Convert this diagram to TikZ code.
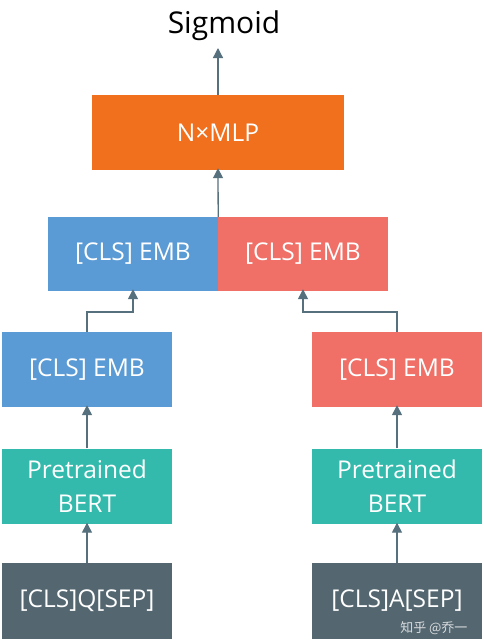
\documentclass[tikz,border=0pt]{standalone}
\usepackage{fontspec}
\setmainfont{Open Sans}
\newfontfamily\cjkfont{Noto Sans CJK SC}
\usetikzlibrary{arrows.meta}
\definecolor{cOrange}{HTML}{F0701E}
\definecolor{cBlue}{HTML}{5B9BD5}
\definecolor{cRed}{HTML}{F06F66}
\definecolor{cTeal}{HTML}{33BAAC}
\definecolor{cDark}{HTML}{546670}
\definecolor{cArrow}{HTML}{56707E}
\definecolor{cWm}{HTML}{D8DCDE}
\tikzset{
  blk/.style={draw=none, inner sep=0pt, text=white, font=\fontsize{24.5}{34}\selectfont, align=center},
  conn/.style={draw=cArrow, line width=1.3pt, -{Triangle[width=10pt,length=10pt]}},
}
\begin{document}
\begin{tikzpicture}[x=1pt,y=-1pt]
\useasboundingbox (0,0) rectangle (484,641);
\fill[white] (0,0) rectangle (484,641);
% nodes
\node[font=\fontsize{30}{36}\selectfont] (sig) at (224,26) {Sigmoid};
\coordinate (sigb) at (218,48);
\node[blk, fill=cOrange, minimum width=252pt, minimum height=75pt] (mlp) at (218,132.5) {N×MLP};
\node[blk, fill=cBlue, minimum width=170pt, minimum height=74pt] (eq) at (133,254) {[CLS] EMB};
\node[blk, fill=cRed, minimum width=170pt, minimum height=74pt] (ea) at (303,254) {[CLS] EMB};
\node[blk, fill=cBlue, minimum width=170pt, minimum height=75pt] (lq) at (87,369.5) {[CLS] EMB};
\node[blk, fill=cRed, minimum width=170pt, minimum height=75pt] (la) at (397,369.5) {[CLS] EMB};
\node[blk, fill=cTeal, minimum width=170pt, minimum height=75pt] (bq) at (87,486) {Pretrained\\BERT};
\node[blk, fill=cTeal, minimum width=170pt, minimum height=75pt] (ba) at (397,486) {Pretrained\\BERT};
\node[blk, fill=cDark, minimum width=170pt, minimum height=76pt] (iq) at (87,601) {[CLS]Q[SEP]};
\node[blk, fill=cDark, minimum width=170pt, minimum height=76pt] (ia) at (397,601) {[CLS]A[SEP]};
\node[text=cWm, font=\cjkfont\fontsize{13}{15}\selectfont, anchor=east] (wm) at (471,628) {知乎 @乔一};
% connectors
\draw[conn] (mlp.north) -- (sigb);
\draw[conn] (eq.north east) -- ([yshift=2pt]mlp.south);
\draw[conn] (lq.north) |- (87,312) -| ([yshift=2pt]eq.south);
\draw[conn] (la.north) |- (397,312) -| ([yshift=2pt]ea.south);
\draw[conn] (bq.north) -- ([yshift=2pt]lq.south);
\draw[conn] (ba.north) -- ([yshift=2pt]la.south);
\draw[conn] (iq.north) -- ([yshift=1pt]bq.south);
\draw[conn] (ia.north) -- ([yshift=1pt]ba.south);
\end{tikzpicture}
\end{document}
